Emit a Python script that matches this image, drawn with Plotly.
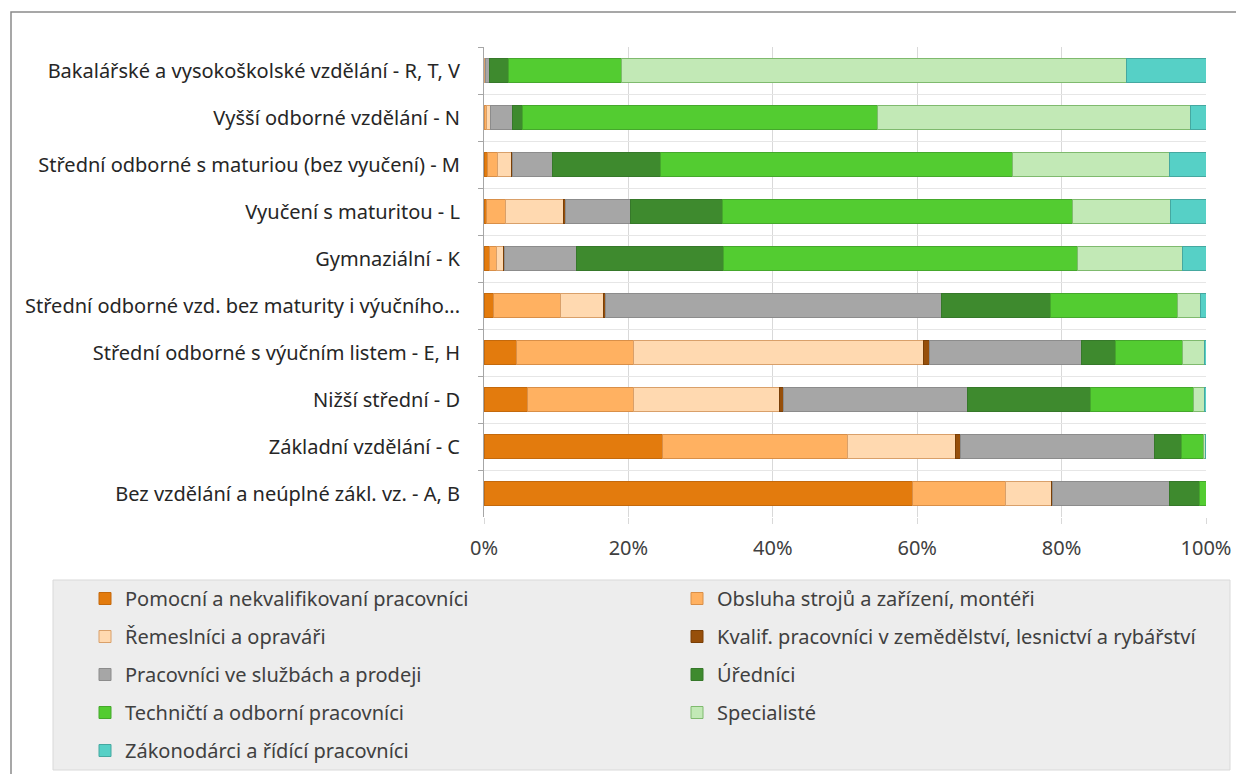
import plotly.graph_objects as go

categories = [
    "Bakalářské a vysokoškolské vzdělání - R, T, V",
    "Vyšší odborné vzdělání - N",
    "Střední odborné s maturiou (bez vyučení) - M",
    "Vyučení s maturitou - L",
    "Gymnaziální - K",
    "Střední odborné vzd. bez maturity i výučního...",
    "Střední odborné s výučním listem - E, H",
    "Nižší střední - D",
    "Základní vzdělání - C",
    "Bez vzdělání a neúplné zákl. vz. - A, B",
]

# shares in % per education level (top to bottom)
pomocni = [0.05, 0.1, 0.5, 0.4, 0.8, 1.3, 4.5, 6.0, 24.7, 59.4]
obsluha = [0.05, 0.2, 1.4, 2.6, 0.9, 9.3, 16.2, 14.7, 25.7, 12.8]
remeslnici = [0.1, 0.6, 1.9, 8.0, 1.0, 5.9, 40.2, 20.2, 14.9, 6.4]
kvalif = [0.0, 0.0, 0.1, 0.3, 0.1, 0.3, 0.8, 0.6, 0.7, 0.2]
sluzby = [0.6, 3.1, 5.6, 9.0, 10.0, 46.6, 21.1, 25.5, 26.9, 16.2]
urednici = [2.6, 1.4, 15.0, 12.7, 20.4, 15.1, 4.6, 17.0, 3.7, 4.1]
technicti = [15.6, 49.1, 48.7, 48.5, 49.0, 17.6, 9.3, 14.3, 3.1, 0.9]
specialiste = [70.0, 43.3, 21.7, 13.6, 14.6, 3.2, 3.1, 1.5, 0.2, 0.0]
zakonodarci = [11.0, 2.2, 5.1, 4.9, 3.2, 0.7, 0.2, 0.2, 0.1, 0.0]

tick_vals = [0, 20, 40, 60, 80, 100]
tick_text = ["0%", "20%", "40%", "60%", "80%", "100%"]

series = [
    ("Pomocní a nekvalifikovaní pracovníci", pomocni, "#E37B0D", "#C4690C", "legend"),
    ("Obsluha strojů a zařízení, montéři", obsluha, "#FFB161", "#D98F48", "legend2"),
    ("Řemeslníci a opraváři", remeslnici, "#FFD9B0", "#D9A06A", "legend"),
    ("Kvalif. pracovníci v zemědělství, lesnictví a rybářství", kvalif, "#974F0A", "#7A3F06", "legend2"),
    ("Pracovníci ve službách a prodeji", sluzby, "#A6A6A6", "#8C8C8C", "legend"),
    ("Úředníci", urednici, "#3E8A2E", "#36782A", "legend2"),
    ("Techničtí a odborní pracovníci", technicti, "#53CC31", "#45A82C", "legend"),
    ("Specialisté", specialiste, "#C2E9B6", "#7FBA6E", "legend2"),
    ("Zákonodárci a řídící pracovníci", zakonodarci, "#56D0C6", "#45A8A0", "legend"),
]

FONT = "Noto Sans, Open Sans, sans-serif"
OFF = 8  # page body margin
FW, FH = 1244 - OFF, 774 - OFF
L, T = 484 - OFF, 47 - OFF
R, B = FW - (1206 - OFF), FH - (517 - OFF)
W, H = FW - L - R, FH - T - B


def px_x(sx):
    return (sx - OFF - L) / W


def px_y(sy):
    return (FH - B - (sy - OFF)) / H


fig = go.Figure()
for i, (name, vals, color, edge, leg) in enumerate(series):
    fig.add_trace(go.Bar(
        y=categories,
        x=vals,
        name=name,
        orientation="h",
        marker=dict(color=color, line=dict(color=edge, width=1)),
        legend=leg,
        legendgroup=f"g{i}",
    ))

legend_common = dict(
    orientation="v",
    traceorder="grouped",
    tracegroupgap=9,
    bgcolor="rgba(0,0,0,0)",
    font=dict(family=FONT, size=20, color="#404040"),
    xanchor="left",
    yanchor="top",
    y=px_y(579),
)

fig.update_layout(
    barmode="stack",
    bargap=0.5,
    width=FW,
    height=FH,
    margin=dict(l=L, r=R, t=T, b=B, autoexpand=False),
    plot_bgcolor="white",
    paper_bgcolor="white",
    font=dict(family=FONT, size=20, color="#404040"),
    legend=dict(x=px_x(85), **legend_common),
    legend2=dict(x=px_x(677), **legend_common),
    shapes=[
        dict(type="rect", xref="paper", yref="paper",
             x0=px_x(11), x1=px_x(1270), y0=px_y(800), y1=px_y(12),
             line=dict(color="#8A8A8A", width=1.5), layer="below"),
        dict(type="rect", xref="paper", yref="paper",
             x0=px_x(53), x1=px_x(1230), y0=px_y(770), y1=px_y(580),
             fillcolor="#EDEDED", line=dict(color="#D9D9D9", width=1), layer="below"),
    ],
)

fig.update_xaxes(
    range=[0, 100],
    tickvals=tick_vals,
    ticktext=tick_text,
    showgrid=True,
    gridcolor="#D9D9D9",
    gridwidth=1,
    zeroline=False,
    ticks="outside",
    ticklen=6,
    tickcolor="#D9D9D9",
    ticklabelstandoff=7,
    tickfont=dict(family=FONT, size=20, color="#404040"),
    fixedrange=True,
)
fig.update_yaxes(
    autorange="reversed",
    tickson="boundaries",
    ticks="outside",
    ticklen=5,
    tickcolor="#A6A6A6",
    showgrid=True,
    gridcolor="#E6E6E6",
    showline=True,
    linecolor="#A6A6A6",
    linewidth=1,
    ticklabelstandoff=19,
    tickfont=dict(family=FONT, size=20, color="#262626"),
    fixedrange=True,
)

fig.write_html("out.html")
